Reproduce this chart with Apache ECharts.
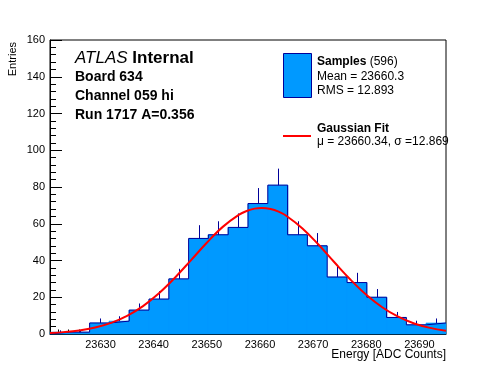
<!DOCTYPE html>
<html><head><meta charset="utf-8">
<script src="https://cdn.jsdelivr.net/npm/echarts@6/dist/echarts.min.js"></script>
<style>html,body{margin:0;padding:0;background:#fff}#c{width:496px;height:372px}</style>
</head><body><div id="c"></div>
<script>
// ---- data ----
const binStart = 23620.5;
const binWidth = 3.725;
const counts = [1, 1, 6, 7, 13, 19, 30, 52, 54, 58, 71, 81, 54, 48, 31, 28, 20, 9, 5, 6];
const xTickLabels = [23630, 23640, 23650, 23660, 23670, 23680, 23690];
const xMinorTicks = [23622, 23624, 23626, 23628, 23632, 23634, 23636, 23638, 23642, 23644, 23646, 23648,
  23652, 23654, 23656, 23658, 23662, 23664, 23666, 23668, 23672, 23674, 23676, 23678,
  23682, 23684, 23686, 23688, 23692, 23694];
const yTickLabels = [0, 20, 40, 60, 80, 100, 120, 140, 160];
const fitX = [23620.5, 23623, 23626, 23629, 23632, 23635, 23638, 23641, 23644, 23647, 23650, 23653, 23656,
  23657.5, 23659, 23660.34, 23662, 23663.5, 23665, 23668, 23671, 23674, 23677, 23680, 23683, 23686, 23689, 23692, 23695];
const fitY = [0.57, 1.02, 1.95, 3.54, 6.07, 9.87, 15.20, 22.18, 30.64, 40.08, 49.67, 58.30, 64.81,
  66.95, 68.23, 68.60, 68.03, 66.56, 64.24, 57.47, 48.68, 39.05, 29.68, 21.36, 14.56, 9.40, 5.74, 3.33, 1.82];

// ---- derived ----
const xMin = binStart, xMax = binStart + counts.length * binWidth;
const barData = counts.map((c, i) => [binStart + i * binWidth, binStart + (i + 1) * binWidth, c]);
const stepData = [[binStart, 0]].concat(counts.map((c, i) => [binStart + i * binWidth, c]));
stepData.push([xMax, counts[counts.length - 1]]);
const fitData = fitX.map((x, i) => [x, fitY[i]]);
const FONT = "'Liberation Sans', Arial, Helvetica, sans-serif";
const FILL = '#0099ff', LINE = '#000099';

const chart = echarts.init(document.getElementById('c'), null, {renderer: 'canvas'});
chart.setOption({
  animation: false,
  grid: {left: 50, right: 50, top: 40, bottom: 38, show: true, borderColor: '#000', borderWidth: 1, containLabel: false},
  xAxis: [{
    type: 'value', min: xMin, max: xMax, position: 'bottom',
    axisLine: {show: true, lineStyle: {color: '#000', width: 1}},
    axisTick: {show: true, inside: true, length: 9, customValues: xTickLabels, lineStyle: {color: '#000'}},
    axisLabel: {show: true, customValues: xTickLabels, margin: 5, color: '#000', fontSize: 11, fontFamily: FONT,
      formatter: v => String(v)},
    splitLine: {show: false}
  }, {
    type: 'value', min: xMin, max: xMax, position: 'bottom', offset: 0,
    axisLine: {show: false},
    axisTick: {show: true, inside: true, length: 4.5, customValues: xMinorTicks, lineStyle: {color: '#000'}},
    axisLabel: {show: false},
    splitLine: {show: false}
  }],
  yAxis: {
    type: 'value', min: 0, max: 160, interval: 20,
    axisLine: {show: true, lineStyle: {color: '#000', width: 1}},
    axisTick: {show: true, inside: true, length: 12, lineStyle: {color: '#000'}},
    minorTick: {show: true, splitNumber: 5, length: 6, lineStyle: {color: '#000'}},
    axisLabel: {margin: 5, color: '#000', fontSize: 11, fontFamily: FONT,
      formatter: v => yTickLabels.indexOf(v) >= 0 ? String(v) : ''},
    splitLine: {show: false}
  },
  series: [{
    type: 'custom', z: 1, xAxisIndex: 0, data: barData, encode: {x: [0, 1], y: 2},
    renderItem: (params, api) => {
      const p0 = api.coord([api.value(0), api.value(2)]);
      const p1 = api.coord([api.value(1), 0]);
      const x0 = Math.round(p0[0]), x1 = Math.round(p1[0]);
      return {type: 'rect', shape: {x: x0, y: p0[1], width: x1 - x0, height: p1[1] - p0[1]},
        style: {fill: FILL, stroke: FILL, lineWidth: 0.6}};
    }
  }, {
    type: 'line', z: 2, xAxisIndex: 0, data: stepData, step: 'end', symbol: 'none',
    lineStyle: {color: LINE, width: 1}
  }, {
    type: 'custom', z: 3, xAxisIndex: 0, data: barData, encode: {x: [0, 1], y: 2},
    renderItem: (params, api) => {
      const c = (api.value(0) + api.value(1)) / 2, v = api.value(2);
      const a = api.coord([c, v]), b = api.coord([c, v + Math.sqrt(v)]);
      return {type: 'line', shape: {x1: Math.round(a[0]) + 0.5, y1: a[1], x2: Math.round(a[0]) + 0.5, y2: b[1]},
        style: {stroke: LINE, lineWidth: 1}};
    }
  }, {
    type: 'line', z: 4, xAxisIndex: 0, data: fitData, smooth: 0.4, symbol: 'none',
    lineStyle: {color: '#ff0000', width: 2}
  }],
  graphic: [
    {type: 'text', x: 13, y: 42, rotation: Math.PI / 2,
      style: {text: 'Entries', fill: '#000', fontSize: 11, fontFamily: FONT, align: 'right', verticalAlign: 'middle', textAlign: 'right', textVerticalAlign: 'middle'}},
    {type: 'text', x: 446, y: 355,
      style: {text: 'Energy [ADC Counts]', fill: '#000', fontSize: 12, fontFamily: FONT, align: 'right', verticalAlign: 'middle', textAlign: 'right', textVerticalAlign: 'middle'}},
    {type: 'text', x: 75, y: 58,
      style: {text: '{a|ATLAS} {b|Internal}', fill: '#000', fontSize: 17, fontFamily: FONT, verticalAlign: 'middle', textVerticalAlign: 'middle',
        rich: {a: {fontSize: 17, fontStyle: 'italic', fontFamily: FONT, fill: '#000'}, b: {fontSize: 17, fontWeight: 'bold', fontFamily: FONT, fill: '#000'}}}},
    {type: 'text', x: 75, y: 77,
      style: {text: 'Board 634', fill: '#000', fontSize: 14, fontWeight: 'bold', fontFamily: FONT, verticalAlign: 'middle', textVerticalAlign: 'middle'}},
    {type: 'text', x: 75, y: 96,
      style: {text: 'Channel 059 hi', fill: '#000', fontSize: 14, fontWeight: 'bold', fontFamily: FONT, verticalAlign: 'middle', textVerticalAlign: 'middle'}},
    {type: 'text', x: 75, y: 115,
      style: {text: 'Run 1717 A=0.356', fill: '#000', fontSize: 14, fontWeight: 'bold', fontFamily: FONT, verticalAlign: 'middle', textVerticalAlign: 'middle'}},
    {type: 'rect', shape: {x: 283.5, y: 53.5, width: 28, height: 44}, style: {fill: FILL, stroke: LINE, lineWidth: 1}, z: 10},
    {type: 'text', x: 317, y: 62, z: 10,
      style: {text: '{b|Samples} {r|(596)}', fill: '#000', fontSize: 12, fontFamily: FONT, verticalAlign: 'middle', textVerticalAlign: 'middle',
        rich: {b: {fontSize: 12, fontWeight: 'bold', fontFamily: FONT, fill: '#000'}, r: {fontSize: 12, fontFamily: FONT, fill: '#000'}}}},
    {type: 'text', x: 317, y: 77, z: 10,
      style: {text: 'Mean = 23660.3', fill: '#000', fontSize: 12, fontFamily: FONT, verticalAlign: 'middle', textVerticalAlign: 'middle'}},
    {type: 'text', x: 317, y: 91, z: 10,
      style: {text: 'RMS = 12.893', fill: '#000', fontSize: 12, fontFamily: FONT, verticalAlign: 'middle', textVerticalAlign: 'middle'}},
    {type: 'line', shape: {x1: 283, y1: 136, x2: 311, y2: 136}, style: {stroke: '#ff0000', lineWidth: 2}, z: 10},
    {type: 'text', x: 317, y: 129, z: 10,
      style: {text: 'Gaussian Fit', fill: '#000', fontSize: 12, fontWeight: 'bold', fontFamily: FONT, verticalAlign: 'middle', textVerticalAlign: 'middle'}},
    {type: 'text', x: 317, y: 142, z: 10,
      style: {text: 'μ = 23660.34, σ =12.869', fill: '#000', fontSize: 12, fontFamily: FONT, verticalAlign: 'middle', textVerticalAlign: 'middle'}}
  ]
});
</script></body></html>
